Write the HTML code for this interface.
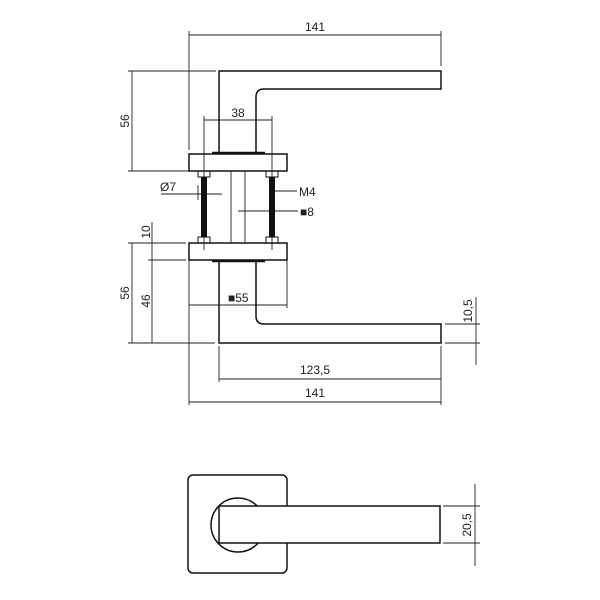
<!DOCTYPE html>
<html><head><style>body{margin:0;background:#fff}svg{display:block}text{font-family:"Liberation Sans",sans-serif;font-size:12px;fill:#222}</style></head><body>
<svg width="600" height="600" viewBox="0 0 600 600">
<g stroke="#222" stroke-width="0.9" fill="none">
<!-- top 141 -->
<line x1="189" y1="35" x2="441" y2="35"/><line x1="189" y1="31" x2="189" y2="150"/><line x1="441" y1="31" x2="441" y2="66"/>
<!-- 56 top -->
<line x1="132" y1="71" x2="132" y2="171"/><line x1="128" y1="71" x2="216" y2="71"/><line x1="128" y1="171" x2="190" y2="171"/>
<!-- 38 -->
<line x1="204" y1="120" x2="272" y2="120"/><line x1="204" y1="116" x2="204" y2="250"/><line x1="272" y1="116" x2="272" y2="250"/>
<!-- Ø7 -->
<line x1="161" y1="194" x2="222" y2="194"/><line x1="198" y1="185" x2="198" y2="200"/>
<!-- M4 -->
<line x1="275" y1="191" x2="297" y2="191"/>
<line x1="238" y1="211" x2="298" y2="211"/>
<!-- 10 -->
<line x1="152" y1="222" x2="152" y2="343"/><line x1="128" y1="243" x2="186" y2="243"/><line x1="148" y1="260" x2="186" y2="260"/>
<line x1="132" y1="243" x2="132" y2="343"/><line x1="128" y1="343" x2="215" y2="343"/>
<!-- 55 -->
<line x1="189" y1="305" x2="287" y2="305"/><line x1="189" y1="260" x2="189" y2="405"/><line x1="287" y1="260" x2="287" y2="308"/>
<!-- 10,5 -->
<line x1="476" y1="297" x2="476" y2="365"/><line x1="445" y1="324" x2="480" y2="324"/><line x1="445" y1="343" x2="480" y2="343"/>
<!-- 123,5 -->
<line x1="219" y1="379" x2="441" y2="379"/><line x1="219" y1="346" x2="219" y2="382"/><line x1="441" y1="346" x2="441" y2="405"/>
<line x1="189" y1="402" x2="441" y2="402"/>
<!-- 20,5 -->
<line x1="475" y1="484" x2="475" y2="566"/><line x1="443" y1="506" x2="480" y2="506"/><line x1="443" y1="543" x2="480" y2="543"/>
<!-- spindle -->
<line x1="231" y1="171" x2="231" y2="243"/><line x1="245" y1="171" x2="245" y2="243"/>
</g>
<g stroke="#111" stroke-width="1.5" fill="none">
<path d="M219 153 V71 H441 V89 H264 Q256 89 256 97 V153"/>
<path d="M219 260 V343 H441 V324 H264 Q256 324 256 316 V260"/>
<rect x="189" y="154" width="98" height="17"/>
<rect x="189" y="243" width="98" height="17"/>
<line x1="212" y1="153" x2="265" y2="153" stroke-width="2.5"/>
<line x1="212" y1="261" x2="265" y2="261" stroke-width="2.5"/>
<rect x="198" y="171" width="12" height="6" stroke-width="1"/><rect x="266" y="171" width="12" height="6" stroke-width="1"/>
<rect x="198" y="237" width="12" height="6" stroke-width="1"/><rect x="266" y="237" width="12" height="6" stroke-width="1"/>
<rect x="188" y="475" width="99" height="98" rx="5"/>
<circle cx="238" cy="525" r="27"/>
<rect x="219" y="506" width="221" height="37" fill="#fff"/>
</g>
<rect x="201" y="177" width="6" height="60" fill="#111"/><rect x="269" y="177" width="6" height="60" fill="#111"/>
<text x="315" y="31" text-anchor="middle">141</text>
<text x="238" y="117" text-anchor="middle">38</text>
<text x="160" y="191">Ø7</text>
<text x="299" y="196">M4</text>
<text x="300" y="216">■8</text>
<text x="228" y="302">■55</text>
<text x="315" y="374" text-anchor="middle">123,5</text>
<text x="315" y="397" text-anchor="middle">141</text>
<text transform="translate(129,121) rotate(-90)" text-anchor="middle">56</text>
<text transform="translate(150,232) rotate(-90)" text-anchor="middle">10</text>
<text transform="translate(129,293) rotate(-90)" text-anchor="middle">56</text>
<text transform="translate(150,301) rotate(-90)" text-anchor="middle">46</text>
<text transform="translate(472,311) rotate(-90)" text-anchor="middle">10,5</text>
<text transform="translate(471,525) rotate(-90)" text-anchor="middle">20,5</text>
</svg>
</body></html>
